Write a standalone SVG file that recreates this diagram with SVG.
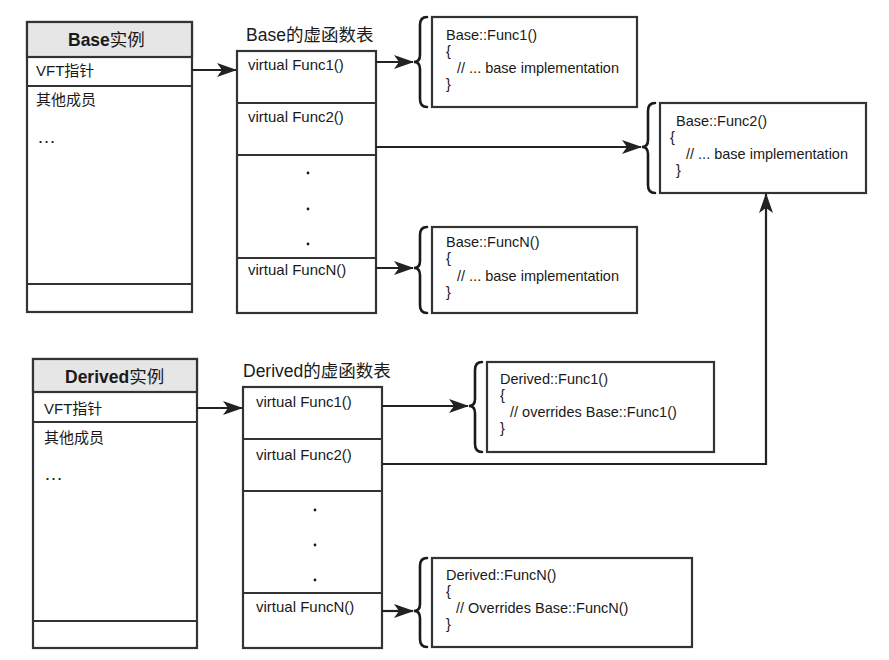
<svg xmlns="http://www.w3.org/2000/svg" width="889" height="660" viewBox="0 0 889 660">
  <defs>
    <marker id="arrow" markerUnits="userSpaceOnUse" markerWidth="20" markerHeight="14" refX="19" refY="7" orient="auto">
      <path d="M0,0 L20,7 L0,14 L5,7 Z" fill="#222"/>
    </marker>
    <style>
      .box { fill: #fff; stroke: #333; stroke-width: 2.2; }
      .hdr { fill: #e6e6e6; stroke: #333; stroke-width: 2.2; }
      .sep { stroke: #333; stroke-width: 2.2; fill: none; }
      .brace { fill: none; stroke: #1a1a1a; stroke-width: 2.6; stroke-linecap: round; }
      .conn { fill: none; stroke: #222; stroke-width: 2.2; }
      text { font-family: "Liberation Sans", "Noto Sans CJK SC", sans-serif; fill: #1a1a1a; }
      .title { font-size: 17.5px; }
      .hd { font-size: 17.5px; font-weight: bold; }
      .lbl { font-size: 15px; }
      .ell { font-size: 19px; }
      .code { font-size: 14.5px; }
      .dot { fill: #1a1a1a; }
    </style>
  </defs>

  <!-- Base instance -->
  <g id="base-instance">
    <rect class="box" x="27" y="22" width="165" height="290"/>
    <rect class="hdr" x="27" y="22" width="165" height="35"/>
    <line class="sep" x1="27" y1="86" x2="192" y2="86"/>
    <line class="sep" x1="27" y1="284" x2="192" y2="284"/>
    <text class="hd" x="68" y="46">Base<tspan font-weight="normal">实例</tspan></text>
    <text class="lbl" x="36" y="76">VFT指针</text>
    <text class="lbl" x="36" y="105">其他成员</text>
    <text class="ell" x="37" y="143">…</text>
  </g>

  <!-- Base virtual function table -->
  <g id="base-vtable">
    <text class="title" x="246" y="41">Base的虚函数表</text>
    <rect class="box" x="237" y="51" width="139" height="262"/>
    <line class="sep" x1="237" y1="103" x2="376" y2="103"/>
    <line class="sep" x1="237" y1="155" x2="376" y2="155"/>
    <line class="sep" x1="237" y1="258" x2="376" y2="258"/>
    <text class="lbl" x="248" y="70">virtual Func1()</text>
    <text class="lbl" x="248" y="122">virtual Func2()</text>
    <text class="lbl" x="248" y="275">virtual FuncN()</text>
    <circle class="dot" cx="308" cy="173" r="1.4"/>
    <circle class="dot" cx="308" cy="209" r="1.4"/>
    <circle class="dot" cx="308" cy="244" r="1.4"/>
  </g>

  <!-- Base::Func1 -->
  <g id="base-func1">
    <path class="brace" d="M427,17 Q420,17 420,25 L420,55 Q420,62 414,62 Q420,62 420,69 L420,99 Q420,107 427,107"/>
    <rect class="box" x="432" y="17" width="205" height="90"/>
    <text class="code" x="446" y="40">Base::Func1()</text>
    <text class="code" x="446" y="56">{</text>
    <text class="code" x="457" y="73">// ... base implementation</text>
    <text class="code" x="446" y="89">}</text>
  </g>

  <!-- Base::Func2 -->
  <g id="base-func2">
    <path class="brace" d="M655,103 Q648,103 648,111 L648,140 Q648,147 642,147 Q648,147 648,154 L648,185 Q648,193 655,193"/>
    <rect class="box" x="660" y="103" width="206" height="90"/>
    <text class="code" x="676" y="126">Base::Func2()</text>
    <text class="code" x="670" y="142">{</text>
    <text class="code" x="686" y="159">// ... base implementation</text>
    <text class="code" x="676" y="175">}</text>
  </g>

  <!-- Base::FuncN -->
  <g id="base-funcn">
    <path class="brace" d="M427,227 Q420,227 420,235 L420,261 Q420,268 414,268 Q420,268 420,275 L420,305 Q420,313 427,313"/>
    <rect class="box" x="432" y="227" width="205" height="86"/>
    <text class="code" x="446" y="247">Base::FuncN()</text>
    <text class="code" x="446" y="263">{</text>
    <text class="code" x="457" y="281">// ... base implementation</text>
    <text class="code" x="446" y="297">}</text>
  </g>

  <!-- Derived instance -->
  <g id="derived-instance">
    <rect class="box" x="33" y="359" width="164" height="289"/>
    <rect class="hdr" x="33" y="359" width="164" height="33"/>
    <line class="sep" x1="33" y1="422" x2="197" y2="422"/>
    <line class="sep" x1="33" y1="621" x2="197" y2="621"/>
    <text class="hd" x="65" y="383">Derived<tspan font-weight="normal">实例</tspan></text>
    <text class="lbl" x="44" y="414">VFT指针</text>
    <text class="lbl" x="44" y="443">其他成员</text>
    <text class="ell" x="44" y="480">…</text>
  </g>

  <!-- Derived virtual function table -->
  <g id="derived-vtable">
    <text class="title" x="243" y="377">Derived的虚函数表</text>
    <rect class="box" x="243" y="387" width="139" height="261"/>
    <line class="sep" x1="243" y1="439" x2="382" y2="439"/>
    <line class="sep" x1="243" y1="491" x2="382" y2="491"/>
    <line class="sep" x1="243" y1="593" x2="382" y2="593"/>
    <text class="lbl" x="256" y="407">virtual Func1()</text>
    <text class="lbl" x="256" y="460">virtual Func2()</text>
    <text class="lbl" x="256" y="612">virtual FuncN()</text>
    <circle class="dot" cx="315" cy="510" r="1.4"/>
    <circle class="dot" cx="315" cy="545" r="1.4"/>
    <circle class="dot" cx="315" cy="580" r="1.4"/>
  </g>

  <!-- Derived::Func1 -->
  <g id="derived-func1">
    <path class="brace" d="M482,362 Q475,362 475,370 L475,399 Q475,406 469,406 Q475,406 475,413 L475,444 Q475,452 482,452"/>
    <rect class="box" x="487" y="362" width="227" height="90"/>
    <text class="code" x="500" y="384">Derived::Func1()</text>
    <text class="code" x="500" y="400">{</text>
    <text class="code" x="510" y="417">// overrides Base::Func1()</text>
    <text class="code" x="500" y="433">}</text>
  </g>

  <!-- Derived::FuncN -->
  <g id="derived-funcn">
    <path class="brace" d="M427,558 Q420,558 420,566 L420,604 Q420,611 414,611 Q420,611 420,618 L420,639 Q420,647 427,647"/>
    <rect class="box" x="432" y="558" width="260" height="89"/>
    <text class="code" x="446" y="580">Derived::FuncN()</text>
    <text class="code" x="446" y="596">{</text>
    <text class="code" x="456" y="613">// Overrides Base::FuncN()</text>
    <text class="code" x="446" y="629">}</text>
  </g>

  <!-- Connectors -->
  <g id="connectors">
    <line class="conn" x1="192" y1="70" x2="236" y2="70" marker-end="url(#arrow)"/>
    <line class="conn" x1="376" y1="62" x2="413" y2="62" marker-end="url(#arrow)"/>
    <line class="conn" x1="376" y1="147" x2="641" y2="147" marker-end="url(#arrow)"/>
    <line class="conn" x1="376" y1="268" x2="413" y2="268" marker-end="url(#arrow)"/>
    <line class="conn" x1="197" y1="408" x2="242" y2="408" marker-end="url(#arrow)"/>
    <line class="conn" x1="382" y1="406" x2="468" y2="406" marker-end="url(#arrow)"/>
    <polyline class="conn" points="382,464 766,464 766,194" marker-end="url(#arrow)"/>
    <line class="conn" x1="382" y1="611" x2="413" y2="611" marker-end="url(#arrow)"/>
  </g>
</svg>
